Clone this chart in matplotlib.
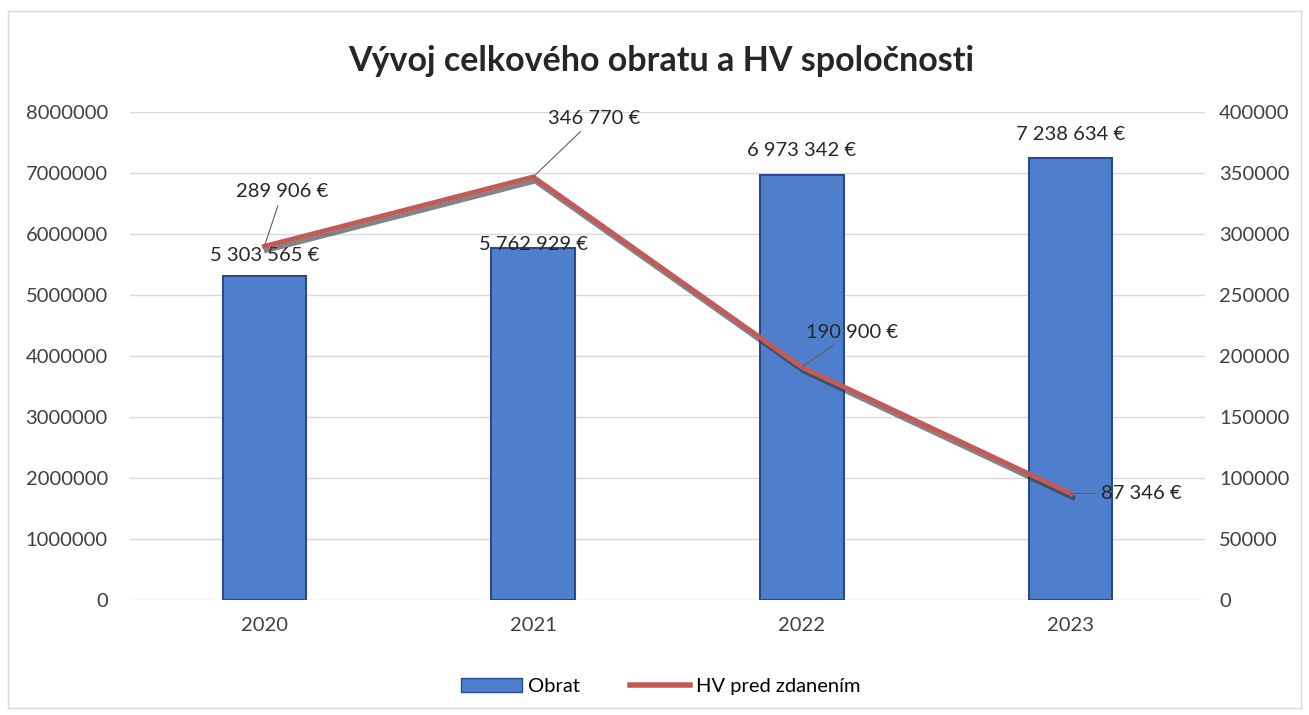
import numpy as np
import matplotlib.pyplot as plt
import matplotlib.patheffects as pe
from matplotlib.patches import Patch, Rectangle
from matplotlib.lines import Line2D

plt.rcParams['font.family'] = ['Lato', 'DejaVu Sans']

years = ['2020', '2021', '2022', '2023']
obrat = [5303565, 5762929, 6973342, 7238634]
hv = [289906, 346770, 190900, 87346]
obrat_labels = ['5 303 565 €', '5 762 929 €', '6 973 342 €', '7 238 634 €']
hv_labels = ['289 906 €', '346 770 €', '190 900 €', '87 346 €']

fig = plt.figure(figsize=(13.09, 7.15), dpi=100)
ax = fig.add_axes([0.0993, 0.1608, 0.8213, 0.6826])
ax2 = ax.twinx()

x = np.arange(len(years))
bar_col = '#4f7fcc'
ax.bar(x, obrat, width=0.31, color=bar_col, edgecolor='#2c4a86', linewidth=1.5, zorder=2)
ax.set_ylim(0, 8000000)
ax.set_xlim(-0.5, 3.5)
ax.set_yticks(np.arange(0, 8000001, 1000000))
ax.set_yticklabels([str(v) for v in range(0, 8000001, 1000000)])
ax.set_xticks(x)
ax.set_xticklabels(years)
ax.grid(axis='y', color='#d9d9d9', linewidth=1, zorder=0)
ax.set_axisbelow(True)

line_col = '#c45a57'
ax2.plot(x, hv, color=line_col, linewidth=3.5, zorder=3,
         path_effects=[pe.SimpleLineShadow(offset=(1.5, -3), shadow_color='#333333', alpha=0.6),
                       pe.Normal()])
ax2.set_ylim(0, 400000)
ax2.set_yticks(np.arange(0, 400001, 50000))
ax2.set_yticklabels([str(v) for v in range(0, 400001, 50000)])

fs = 14.5
for a in (ax, ax2):
    for s in a.spines.values():
        s.set_visible(False)
    a.tick_params(length=0, labelsize=fs, colors='#404040')
ax.tick_params(axis='y', pad=16)
ax.tick_params(axis='x', pad=12)
ax2.tick_params(axis='y', pad=10)

# bar labels
bar_off = [9, -3, 11, 11]
for xi, v, lab, off in zip(x, obrat, obrat_labels, bar_off):
    ax.annotate(lab, (xi, v), xytext=(0, off), textcoords='offset points',
                ha='center', va='bottom', fontsize=fs, color='#262626', zorder=4)

# line labels with leader lines
hv_off = [(13, 33), (44, 36), (36, 19), (22, 0)]
hv_ha = ['center', 'center', 'center', 'left']
hv_va = ['bottom', 'bottom', 'bottom', 'center']
for xi, v, lab, off, ha, va in zip(x, hv, hv_labels, hv_off, hv_ha, hv_va):
    ax2.annotate(lab, (xi, v), xytext=off, textcoords='offset points',
                 ha=ha, va=va, fontsize=fs, color='#262626', zorder=5,
                 arrowprops=dict(arrowstyle='-', color='#606060', lw=0.8,
                                 shrinkA=2, shrinkB=0))

fig.text(0.505, 0.915, 'Vývoj celkového obratu a HV spoločnosti', ha='center', va='center',
         fontsize=24.5, fontweight='bold', color='#262626')

handles = [Patch(facecolor=bar_col, edgecolor='#2c4a86'),
           Line2D([0], [0], color=line_col, linewidth=4)]
fig.legend(handles, ['Obrat', 'HV pred zdanením'], loc='center', bbox_to_anchor=(0.505, 0.04),
           ncol=2, frameon=False, fontsize=fs, handlelength=3, columnspacing=2.5,
           handletextpad=0.3)

fig.patches.append(Rectangle((0.006, 0.01), 0.988, 0.975, transform=fig.transFigure,
                             fill=False, edgecolor='#d9d9d9', linewidth=1))

fig.savefig('out.png', dpi=100)
